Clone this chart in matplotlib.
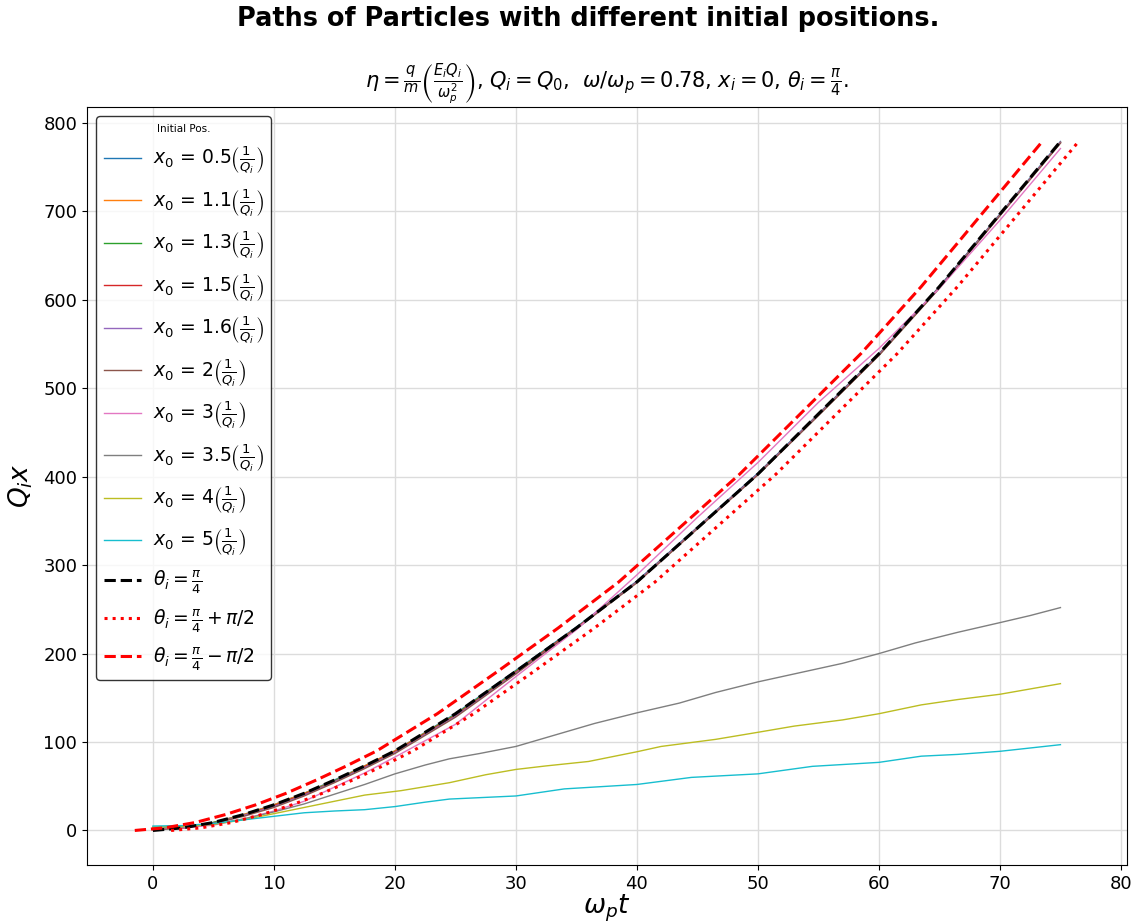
import matplotlib
matplotlib.use('Agg')
import matplotlib.pyplot as plt

# time samples (omega_p t) for the main bundle of paths
t_main = [0, 2.5, 5, 7.5, 10, 12.5, 15, 17.5, 20, 25, 30, 35, 40, 45, 50, 55, 60, 65, 70, 75]

# Q_i x for each initial position (in units of 1/Q_i)
x0_labels = ['0.5', '1.1', '1.3', '1.5', '1.6', '2', '3']
paths_main = [
    [0.5, 3, 9, 18, 29, 42, 57, 73, 90, 132, 181, 230, 282, 343, 404, 471, 539, 615, 697, 779],
    [1.1, 3, 9, 18, 29, 42, 56, 73, 90, 131, 180, 229, 281, 342, 403, 470, 538, 614, 696, 778],
    [1.3, 3, 9, 17, 28, 41, 56, 72, 89, 131, 180, 229, 281, 342, 403, 470, 538, 614, 696, 778],
    [1.5, 3, 8, 17, 28, 41, 55, 72, 89, 130, 179, 229, 281, 342, 403, 470, 538, 614, 696, 778],
    [1.6, 3, 8, 17, 27, 40, 55, 71, 88, 129, 178, 228, 281, 342, 403, 470, 538, 614, 696, 778],
    [2, 3, 8, 16, 26, 39, 54, 70, 87, 128, 177, 228, 280, 341, 402, 469, 537, 613, 695, 777],
    [3, 3, 6, 13, 22, 33, 49, 65, 83, 120, 174, 227, 289, 354, 416, 484, 545, 613, 690, 771],
]

# x0 = 3.5
t_35 = [0, 2.5, 5, 7.5, 10, 12.5, 15, 17.5, 20, 22.5, 24.5, 27, 30, 32, 34, 36.5, 40, 43.5,
        46.5, 50, 53, 57, 60, 63, 66.5, 70, 72.5, 75]
y_35 = [3.5, 4, 7, 13, 21, 30, 41, 52, 64, 74, 81, 87, 95, 103, 111, 121, 133, 144,
        156, 168, 177, 189, 200, 212, 224, 235, 243, 252]

# x0 = 4
t_4 = [0, 2.5, 5, 7.5, 10, 12.5, 15, 17.5, 20.5, 24.5, 27.5, 30, 32.5, 36, 40, 42, 46.5,
       50, 53, 57, 60, 63.5, 66.5, 70, 75]
y_4 = [4, 4.5, 7, 12, 19, 26, 33, 40, 45, 54, 63, 69, 73, 78, 89, 95, 103,
       111, 118, 125, 132, 142, 148, 154, 166]

# x0 = 5
t_5 = [0, 2.5, 5, 7.5, 10, 12.5, 15, 17.5, 20, 22.5, 24.5, 30, 34, 40, 44.5, 50, 54.5,
       60, 63.5, 66.5, 70, 75]
y_5 = [5, 5.5, 8, 12, 16, 20, 22, 23.5, 27, 32, 35.5, 39, 47, 52, 60, 64, 72.5,
       77, 84, 86, 89.5, 97]

# reference paths for the three launch angles
y_theta = [0, 3, 9, 18, 29, 42, 57, 73, 90, 132, 180, 229, 281, 342, 403, 471, 539, 615, 697, 779]
t_plus = [1.5, 4, 6.5, 9, 11.5, 14, 16.5, 19, 21.5, 26.5, 31.5, 36.5, 41.5, 46.5, 51.5,
          56.5, 61.5, 66.5, 71.5, 76.5]
y_plus = [0, 3, 9, 18, 29, 42, 57, 73, 90, 132, 180, 229, 281, 342, 403, 471, 539, 615, 697, 779]
t_minus = [-1.5, 1, 3.5, 6, 8.5, 11, 13.5, 16, 18.5, 23.5, 28.5, 33.5, 38.5, 43.5, 48.5,
           53.5, 58.5, 63.5, 68.5, 73.5]
y_minus = [0, 3, 9, 18, 29, 42, 57, 73, 90, 132, 180, 229, 281, 342, 403, 471, 539, 615, 697, 779]

fig = plt.figure(figsize=(11.37, 9.24), dpi=100)
ax = fig.add_axes([0.0765, 0.0639, 0.9147, 0.8203])

frac = r'$\left(\frac{1}{Q_i}\right)$'
for lab, ys in zip(x0_labels, paths_main):
    ax.plot(t_main, ys, lw=1, label=r'$x_0$ = ' + lab + frac)
ax.plot(t_35, y_35, lw=1, label=r'$x_0$ = 3.5' + frac)
ax.plot(t_4, y_4, lw=1, label=r'$x_0$ = 4' + frac)
ax.plot(t_5, y_5, lw=1, label=r'$x_0$ = 5' + frac)

ax.plot(t_main, y_theta, 'k--', lw=2.2, label=r'$\theta_i = \frac{\pi}{4}$')
ax.plot(t_plus, y_plus, 'r:', lw=2.2, label=r'$\theta_i = \frac{\pi}{4} + \pi/2$')
ax.plot(t_minus, y_minus, 'r--', lw=2.2, label=r'$\theta_i = \frac{\pi}{4} - \pi/2$')

ax.set_xlim(-5.45, 80.5)
ax.set_ylim(-39, 818)
ax.set_xticks(range(0, 81, 10))
ax.set_yticks(range(0, 801, 100))
ax.tick_params(labelsize=13)
ax.grid(color='#dcdcdc', lw=1)

ax.set_xlabel(r'$\omega_p t$', fontsize=19, labelpad=0)
ax.set_ylabel(r'$Q_i x$', fontsize=19, labelpad=6)
ax.set_title(r'$\eta = \frac{q}{m}\left(\frac{E_i Q_i}{\omega_p^2}\right)$, $Q_i = Q_0$,  '
             r'$\omega/\omega_p = 0.78$, $x_i = 0$, $\theta_i = \frac{\pi}{4}$.',
             fontsize=15, pad=8)
fig.suptitle('Paths of Particles with different initial positions.',
             fontsize=18.4, fontweight='bold', x=0.5176, y=0.979, va='center')

leg = ax.legend(loc='upper left', fontsize=13.5, title='Initial Pos.', title_fontsize=7.5,
                edgecolor='k', labelspacing=0.57, handletextpad=0.6)

plt.savefig('out.png', dpi=100)
plt.close()
